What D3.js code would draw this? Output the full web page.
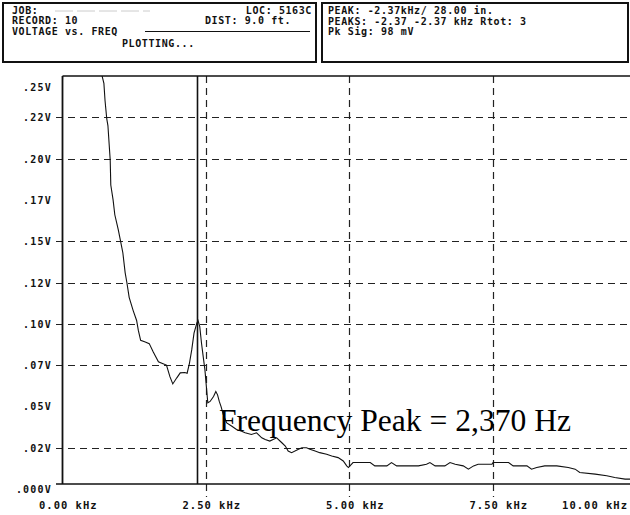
<!DOCTYPE html>
<html>
<head>
<meta charset="utf-8">
<script src="https://cdn.jsdelivr.net/npm/d3@7"></script>
<style>
  html, body { margin: 0; padding: 0; background: #fff; }
  svg { display: block; }
  .mono { font-family: "DejaVu Sans Mono", "Liberation Mono", monospace; font-weight: bold; fill: #111; }
</style>
</head>
<body>
<svg id="chart" width="630" height="515"></svg>
<script>
// ---------- data ----------
const freqKHz = [0.00, 0.05, 0.40, 0.68, 0.70, 0.73, 0.75, 0.78, 0.80, 0.84, 0.85, 0.89, 0.92, 0.96, 0.98,
  1.02, 1.06, 1.10, 1.13, 1.17, 1.24, 1.30, 1.33, 1.37, 1.45, 1.52, 1.59, 1.68, 1.75, 1.82, 1.88, 1.93,
  2.00, 2.06, 2.14, 2.18, 2.22, 2.26, 2.30, 2.35, 2.37, 2.40, 2.43, 2.46, 2.49, 2.52, 2.54, 2.58, 2.64,
  2.68, 2.71, 2.74, 2.77, 2.81, 2.87, 2.96, 3.04, 3.13, 3.19, 3.30, 3.39, 3.48, 3.54, 3.62, 3.74, 3.83,
  3.89, 3.94, 4.00, 4.12, 4.18, 4.26, 4.32, 4.41, 4.49, 4.61, 4.70, 4.81, 4.90, 4.96, 4.99, 5.07, 5.19,
  5.28, 5.37, 5.45, 5.66, 5.74, 5.83, 6.01, 6.21, 6.35, 6.41, 6.50, 6.67, 6.76, 6.85, 6.99, 7.08, 7.17,
  7.25, 7.49, 7.51, 7.60, 7.78, 7.86, 8.10, 8.18, 8.27, 8.41, 8.62, 8.82, 8.94, 9.02, 9.29, 9.49, 9.63,
  9.81, 10.00];
const voltage = [0.237, 0.300, 0.330, 0.253, 0.2497, 0.2455, 0.235, 0.224, 0.220, 0.199, 0.184, 0.175, 0.166, 0.160, 0.157,
  0.150, 0.143, 0.131, 0.125, 0.116, 0.108, 0.102, 0.096, 0.090, 0.089, 0.088, 0.083, 0.077, 0.076, 0.075, 0.068, 0.0636,
  0.0673, 0.0703, 0.0705, 0.0701, 0.0761, 0.0842, 0.0944, 0.1005, 0.1020, 0.0983, 0.0884, 0.0801, 0.0721, 0.060, 0.0522, 0.053, 0.056,
  0.059, 0.057, 0.053, 0.050, 0.045, 0.040, 0.038, 0.036, 0.035, 0.034, 0.033, 0.034, 0.031, 0.030, 0.029, 0.031, 0.028,
  0.026, 0.023, 0.022, 0.024, 0.025, 0.025, 0.024, 0.023, 0.022, 0.021, 0.020, 0.019, 0.017, 0.014, 0.013, 0.016, 0.016,
  0.016, 0.016, 0.014, 0.014, 0.016, 0.014, 0.014, 0.014, 0.015, 0.016, 0.014, 0.014, 0.016, 0.015, 0.014, 0.012, 0.014,
  0.015, 0.015, 0.016, 0.016, 0.016, 0.014, 0.014, 0.012, 0.013, 0.014, 0.014, 0.013, 0.012, 0.010, 0.009, 0.008, 0.007,
  0.006, 0.006];

const yTickValues = [0.25, 0.225, 0.20, 0.175, 0.15, 0.125, 0.10, 0.075, 0.05, 0.025, 0.0];
const yTickLabels = [".25V", ".22V", ".20V", ".17V", ".15V", ".12V", ".10V", ".07V", ".05V", ".02V", ".000V"];
const yGridValues = [0.225, 0.20, 0.15, 0.125, 0.10, 0.075, 0.025];
const xTickValues = [0, 2.5, 5, 7.5, 10];
const xTickLabels = ["0.00 kHz", "2.50 kHz", "5.00 kHz", "7.50 kHz", "10.00 kHz"];
const peakKHz = 2.37;

const headerLeft = {
  job: "JOB:", loc: "LOC: 5163C", record: "RECORD: 10", dist: "DIST: 9.0 ft.",
  title: "VOLTAGE vs. FREQ", status: "PLOTTING..."
};
const headerRight = ["PEAK: -2.37kHz/ 28.00 in.", "PEAKS: -2.37  -2.37 kHz  Rtot: 3", "Pk Sig: 98 mV"];
const annotation = "Frequency Peak = 2,370 Hz";

// ---------- layout ----------
const svg = d3.select("#chart");
const plotLeft = 62.5, plotTop = 76, baseY = 484, rightEdge = 630;
const x = d3.scaleLinear().domain([0, 10]).range([62, 636]);
const y = d3.scaleLinear().domain([0, 0.25]).range([489, 76]);

// ---------- header boxes ----------
svg.append("rect").attr("x", 3).attr("y", 3).attr("width", 313).attr("height", 59)
  .attr("fill", "none").attr("stroke", "#111").attr("stroke-width", 2);
svg.append("rect").attr("x", 322).attr("y", 3).attr("width", 306).attr("height", 59)
  .attr("fill", "none").attr("stroke", "#111").attr("stroke-width", 2);

const hdr = svg.append("g").attr("class", "mono").style("font-size", "10px").style("letter-spacing", "0.6px");
hdr.append("text").attr("x", 12).attr("y", 14).text(headerLeft.job);
svg.append("line").attr("x1", 55).attr("x2", 150).attr("y1", 11).attr("y2", 11)
  .attr("stroke", "#ccc").attr("stroke-width", 1).attr("stroke-dasharray", "18,4");
hdr.append("text").attr("x", 312).attr("y", 14).attr("text-anchor", "end").text(headerLeft.loc);
hdr.append("text").attr("x", 12).attr("y", 24).text(headerLeft.record);
hdr.append("text").attr("x", 205).attr("y", 24).text(headerLeft.dist);
hdr.append("text").attr("x", 12).attr("y", 35).text(headerLeft.title);
svg.append("line").attr("x1", 145).attr("x2", 310).attr("y1", 31.5).attr("y2", 31.5)
  .attr("stroke", "#111").attr("stroke-width", 1.2);
hdr.append("text").attr("x", 122).attr("y", 47).text(headerLeft.status);
headerRight.forEach((t, i) => {
  hdr.append("text").attr("x", 328).attr("y", 14 + i * 10.5).text(t);
});

// ---------- grid ----------
const grid = svg.append("g").attr("stroke", "#222").attr("stroke-width", 1.2).attr("stroke-dasharray", "7,5");
grid.selectAll("line.h").data(yGridValues).join("line")
  .attr("x1", 56).attr("x2", rightEdge)
  .attr("y1", d => Math.round(y(d)) + 0.5).attr("y2", d => Math.round(y(d)) + 0.5);
grid.selectAll("line.v").data(xTickValues.filter(d => d > 0 && d < 10)).join("line")
  .attr("x1", d => Math.round(x(d)) + 0.5).attr("x2", d => Math.round(x(d)) + 0.5)
  .attr("y1", plotTop).attr("y2", baseY + 13);

// ---------- curve ----------
svg.append("clipPath").attr("id", "clip").append("rect")
  .attr("x", plotLeft).attr("y", plotTop).attr("width", rightEdge - plotLeft).attr("height", baseY - plotTop);
const line = d3.line().x((d, i) => x(freqKHz[i])).y(d => y(d));
svg.append("path").datum(voltage).attr("clip-path", "url(#clip)")
  .attr("d", line).attr("fill", "none").attr("stroke", "#111").attr("stroke-width", 1.1);

// ---------- peak marker ----------
svg.append("line").attr("x1", Math.round(x(peakKHz)) - 0.5).attr("x2", Math.round(x(peakKHz)) - 0.5)
  .attr("y1", plotTop).attr("y2", baseY).attr("stroke", "#111").attr("stroke-width", 1.6);

// ---------- axes frame ----------
svg.append("line").attr("x1", plotLeft).attr("x2", rightEdge).attr("y1", plotTop).attr("y2", plotTop)
  .attr("stroke", "#111").attr("stroke-width", 1.6);
svg.append("line").attr("x1", plotLeft).attr("x2", plotLeft).attr("y1", plotTop).attr("y2", baseY)
  .attr("stroke", "#111").attr("stroke-width", 1.8);
svg.append("line").attr("x1", 56).attr("x2", rightEdge).attr("y1", baseY).attr("y2", baseY)
  .attr("stroke", "#111").attr("stroke-width", 1.6);

// ---------- y labels ----------
const ylab = svg.append("g").attr("class", "mono").style("font-size", "10px").style("letter-spacing", "1.2px");
ylab.selectAll("text").data(yTickValues).join("text")
  .attr("x", 52).attr("text-anchor", "end")
  .attr("y", (d, i) => (i === 0 ? y(d) + 11 : y(d)) + 4)
  .text((d, i) => yTickLabels[i]);

// ---------- x labels ----------
const xlab = svg.append("g").attr("class", "mono").style("font-size", "10.5px").style("letter-spacing", "1px");
xlab.selectAll("text").data(xTickValues).join("text")
  .attr("x", (d, i) => i === xTickValues.length - 1 ? 628 : x(d) - 23)
  .attr("text-anchor", (d, i) => i === xTickValues.length - 1 ? "end" : "start")
  .attr("y", 509)
  .text((d, i) => xTickLabels[i]);

// ---------- annotation ----------
svg.append("text").attr("x", 219).attr("y", 431)
  .style("font-family", "'Liberation Serif', 'Times New Roman', serif")
  .style("font-size", "31.6px").style("fill", "#000")
  .text(annotation);
</script>
</body>
</html>
